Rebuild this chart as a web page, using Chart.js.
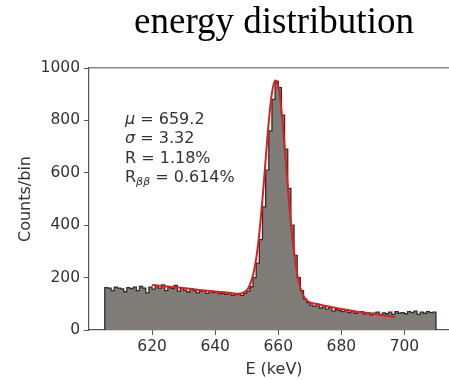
<!DOCTYPE html>
<html>
<head>
<meta charset="utf-8">
<script src="https://cdn.jsdelivr.net/npm/chart.js@4/dist/chart.umd.min.js"></script>
<style>
  html, body { margin: 0; padding: 0; background: #fff; overflow: hidden; }
  #wrap { width: 449px; height: 380px; overflow: hidden; position: relative; }
  canvas { display: block; }
</style>
</head>
<body>
<div id="wrap"><canvas id="c" width="459" height="380"></canvas></div>
<script>
// ---- data ----
const titleText = 'energy distribution';
const xLabel = 'E (keV)';
const yLabel = 'Counts/bin';
const xTickValues = [620, 640, 660, 680, 700];
const yTickValues = [0, 200, 400, 600, 800, 1000];
const binStart = 605;   // keV, left edge of first bin
const binWidth = 1;     // keV
const histCounts = [
  162, 160, 150, 164, 160, 157, 146, 162, 158, 164,
  150, 166, 160, 142, 164, 156, 168, 160, 172, 150,
  164, 158, 170, 148, 160, 152, 145, 158, 150, 142,
  148, 150, 140, 148, 143, 145, 138, 140, 136, 142,
  132, 135, 138, 132, 140, 148, 165, 200, 255, 345,
  470, 610, 760, 880, 950, 925, 820, 690, 540, 400,
  285, 200, 150, 118, 105, 95, 90, 98, 84, 88,
  80, 86, 72, 78, 74, 70, 76, 66, 72, 64,
  68, 70, 62, 66, 58, 64, 68, 60, 65, 62,
  68, 60, 70, 64, 66, 62, 70, 66, 72, 60,
  68, 64, 70, 66, 68
];
const fitEnergy = [620, 625, 630, 635, 640, 645, 648, 650, 651, 652, 653, 654, 655, 656, 657, 658, 659, 660, 661, 662, 663, 664, 665, 666, 667, 668, 669, 670, 672, 675, 680, 685, 690, 695, 697];
const fitCounts = [172, 166, 160, 153, 147, 141, 139, 152, 172, 210, 272, 370, 500, 650, 795, 905, 952, 930, 840, 700, 548, 408, 295, 213, 160, 130, 114, 105, 100, 92, 80, 70, 62, 53, 50];
const statLines = [
  { sym: 'μ', sub: '', val: '659.2' },
  { sym: 'σ', sub: '', val: '3.32' },
  { sym: 'R', sub: '', val: '1.18%' },
  { sym: 'R', sub: 'ββ', val: '0.614%' }
];

// ---- build datasets ----
const histPoints = [{ x: binStart, y: 0 }];
histCounts.forEach((c, i) => histPoints.push({ x: binStart + i * binWidth, y: c }));
const binEnd = binStart + histCounts.length * binWidth;
histPoints.push({ x: binEnd, y: histCounts[histCounts.length - 1] });
histPoints.push({ x: binEnd, y: 0 });
const fitPoints = fitEnergy.map((e, i) => ({ x: e, y: fitCounts[i] }));

const axisColor = '#555';
const textColor = '#333';
const tickFont = { family: 'DejaVu Sans', size: 15.5 };

const statsPlugin = {
  id: 'stats',
  afterDatasetsDraw(chart) {
    const ctx = chart.ctx;
    ctx.save();
    ctx.fillStyle = textColor;
    ctx.textBaseline = 'alphabetic';
    const x0 = 125;
    const baselines = [123.5, 143, 162.5, 182];
    statLines.forEach((ln, i) => {
      let x = x0;
      const y = baselines[i];
      const symItalic = ln.sym !== 'R';
      ctx.font = (symItalic ? 'italic ' : '') + '16px "DejaVu Sans"';
      ctx.fillText(ln.sym, x, y);
      x += ctx.measureText(ln.sym).width;
      if (ln.sub) {
        ctx.font = 'italic 11px "DejaVu Sans"';
        ctx.fillText(ln.sub, x, y + 3);
        x += ctx.measureText(ln.sub).width;
      }
      ctx.font = '16px "DejaVu Sans"';
      ctx.fillText(' = ' + ln.val, x, y);
    });
    ctx.restore();
  }
};

new Chart(document.getElementById('c'), {
  type: 'line',
  data: {
    datasets: [
      {
        label: 'fit',
        data: fitPoints,
        borderColor: '#e01e1e',
        borderWidth: 2,
        pointRadius: 0,
        tension: 0.35,
        fill: false,
        order: 0
      },
      {
        label: 'data',
        data: histPoints,
        borderColor: '#2e2e2e',
        borderWidth: 1.3,
        backgroundColor: '#807d79',
        pointRadius: 0,
        stepped: 'before',
        fill: 'origin',
        order: 1
      }
    ]
  },
  options: {
    responsive: false,
    animation: false,
    layout: { padding: 0 },
    plugins: {
      legend: { display: false },
      tooltip: { enabled: false },
      title: {
        display: true,
        text: titleText,
        fullSize: false,
        color: '#000',
        font: { family: 'Liberation Serif', size: 37, weight: 'normal', lineHeight: 1 },
        padding: { top: 5, bottom: 26 }
      }
    },
    scales: {
      x: {
        type: 'linear',
        position: 'bottom',
        min: 600,
        max: 717.3,
        afterBuildTicks: s => { s.ticks = xTickValues.map(v => ({ value: v })); },
        afterFit: s => { s.height = 50; },
        ticks: { color: textColor, font: tickFont, padding: 3, maxRotation: 0, autoSkip: false, callback: v => String(v) },
        grid: { drawOnChartArea: false, drawTicks: true, tickLength: 5, color: axisColor },
        border: { display: true, color: axisColor, width: 1.2 },
        title: { display: true, text: xLabel, color: textColor, font: { family: 'DejaVu Sans', size: 16, lineHeight: 1.2 }, padding: { top: 0, bottom: 1 } }
      },
      xTop: {
        type: 'linear',
        position: 'top',
        min: 600,
        max: 717.3,
        afterFit: s => { s.height = 0; },
        ticks: { display: false },
        grid: { display: false, drawTicks: false },
        border: { display: true, color: '#888', width: 1.5 }
      },
      y: {
        type: 'linear',
        min: 0,
        max: 1000,
        afterBuildTicks: s => { s.ticks = yTickValues.map(v => ({ value: v })); },
        afterFit: s => { s.width = 89; },
        ticks: { color: textColor, font: tickFont, padding: 4, callback: v => String(v) },
        grid: { drawOnChartArea: false, drawTicks: true, tickLength: 5, color: axisColor },
        border: { display: true, color: axisColor, width: 1.2 },
        title: { display: true, text: yLabel, color: textColor, font: { family: 'DejaVu Sans', size: 16, lineHeight: 1.2 }, padding: { top: 16, bottom: 0 } }
      }
    }
  },
  plugins: [statsPlugin]
});
</script>
</body>
</html>
